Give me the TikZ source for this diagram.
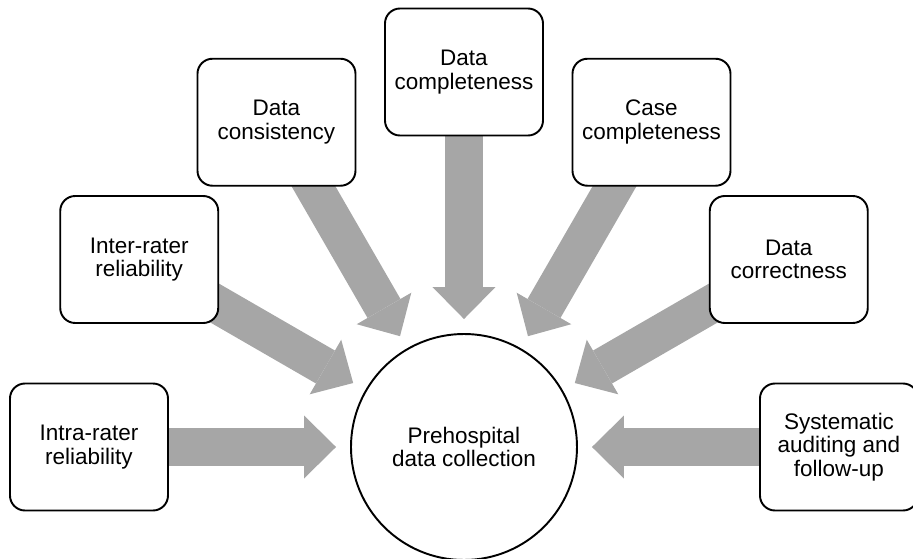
\documentclass[tikz,border=0pt]{standalone}
\usepackage{fontspec}
\setmainfont{Liberation Sans}
\usetikzlibrary{shapes,arrows.meta,positioning,backgrounds}

\begin{document}
\begin{tikzpicture}[
    factor/.style={rectangle, draw, line width=1.1pt, fill=white, rounded corners=0.3cm, minimum width=3.16cm, minimum height=2.54cm, align=center, font=\fontsize{12.8}{13.4}\selectfont},
    hub/.style={circle, draw, line width=1.1pt, fill=white, minimum size=4.52cm, align=center, font=\fontsize{12.8}{13.4}\selectfont},
    flow/.style={draw=black!35, line width=0.76cm, -{Triangle[width=1.26cm, length=0.64cm, line width=0pt]}, shorten >=0.28cm}
]

% Frame
\useasboundingbox (-9.28,-2.22) rectangle (8.98,8.94);

% Centre
\node[hub] (collection) at (0,0) {Prehospital\\data collection};

% Factors around the centre
\node[factor] (intra) at (180:7.5) {Intra-rater\\reliability};
\node[factor] (inter) at (150:7.5) {Inter-rater\\reliability};
\node[factor] (consistency) at (120:7.5) {Data\\consistency};
\node[factor] (datacomplete) at (90:7.5) {Data\\completeness};
\node[factor] (casecomplete) at (60:7.5) {Case\\completeness};
\node[factor] (correctness) at (30:7.5) {Data\\correctness};
\node[factor] (auditing) at (0:7.5) {Systematic\\auditing and\\follow-up};

% Arrows
\begin{scope}[on background layer]
\draw[flow] (intra.center) -- (collection);
\draw[flow] (inter.center) -- (collection);
\draw[flow] (consistency.center) -- (collection);
\draw[flow] (datacomplete.center) -- (collection);
\draw[flow] (casecomplete.center) -- (collection);
\draw[flow] (correctness.center) -- (collection);
\draw[flow] (auditing.center) -- (collection);
\end{scope}

\end{tikzpicture}
\end{document}
